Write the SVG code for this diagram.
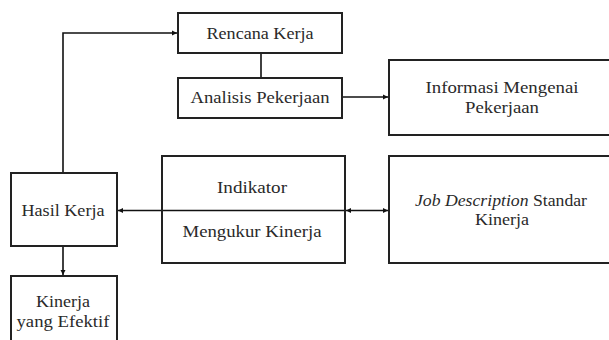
<svg xmlns="http://www.w3.org/2000/svg" width="609" height="340" viewBox="0 0 609 340">
<style>
.box{fill:#fff;stroke:#222;stroke-width:2}
.ln{fill:none;stroke:#111;stroke-width:1.6}
text{font-family:"Liberation Serif","DejaVu Serif",serif;font-size:16px;fill:#2a2a2a;text-anchor:middle}
</style>
<defs>
<marker id="ah" markerWidth="6" markerHeight="6" refX="5" refY="3" orient="auto-start-reverse" markerUnits="userSpaceOnUse">
<path d="M0,0.5 L5,3 L0,5.5 Z" fill="#111"/>
</marker>
</defs>
<rect width="609" height="340" fill="#fff"/>
<g id="connectors">
<path class="ln" d="M63,173 V33 H177" marker-end="url(#ah)"/>
<path class="ln" d="M261,53 V78"/>
<path class="ln" d="M342,97 H388" marker-end="url(#ah)"/>
<path class="ln" d="M162,210.5 H118" marker-end="url(#ah)"/>
<path class="ln" d="M162,210.5 H345"/>
<path class="ln" d="M346,210.5 H388" marker-start="url(#ah)" marker-end="url(#ah)"/>
<path class="ln" d="M63,246 V275" marker-end="url(#ah)"/>
</g>
<g id="rencana">
<rect class="box" x="178" y="13" width="164" height="40"/>
<text x="260" y="39" textLength="107" lengthAdjust="spacingAndGlyphs">Rencana Kerja</text>
</g>
<g id="analisis">
<rect class="box" x="178" y="78" width="164" height="40"/>
<text x="260" y="103" textLength="139" lengthAdjust="spacingAndGlyphs">Analisis Pekerjaan</text>
</g>
<g id="informasi">
<rect class="box" x="389" y="60" width="224" height="75"/>
<text x="502" y="93" textLength="153" lengthAdjust="spacingAndGlyphs">Informasi Mengenai</text>
<text x="502" y="113" textLength="74" lengthAdjust="spacingAndGlyphs">Pekerjaan</text>
</g>
<g id="jobdesc">
<rect class="box" x="389" y="156" width="224" height="107"/>
<text x="501" y="206" textLength="172" lengthAdjust="spacingAndGlyphs"><tspan font-style="italic">Job Description</tspan> Standar</text>
<text x="502" y="225" textLength="54" lengthAdjust="spacingAndGlyphs">Kinerja</text>
</g>
<g id="indikator">
<rect class="box" x="162" y="156" width="183" height="107" fill="none" style="fill:none"/>
<text x="252" y="193" textLength="70" lengthAdjust="spacingAndGlyphs">Indikator</text>
<text x="252" y="237" textLength="139" lengthAdjust="spacingAndGlyphs">Mengukur Kinerja</text>
</g>
<g id="hasil">
<rect class="box" x="11" y="173" width="106" height="73"/>
<text x="63" y="216" textLength="83" lengthAdjust="spacingAndGlyphs">Hasil Kerja</text>
</g>
<g id="kinerja">
<rect class="box" x="11" y="276" width="106" height="70"/>
<text x="63" y="307" textLength="54" lengthAdjust="spacingAndGlyphs">Kinerja</text>
<text x="63" y="327" textLength="93" lengthAdjust="spacingAndGlyphs">yang Efektif</text>
</g>
</svg>
